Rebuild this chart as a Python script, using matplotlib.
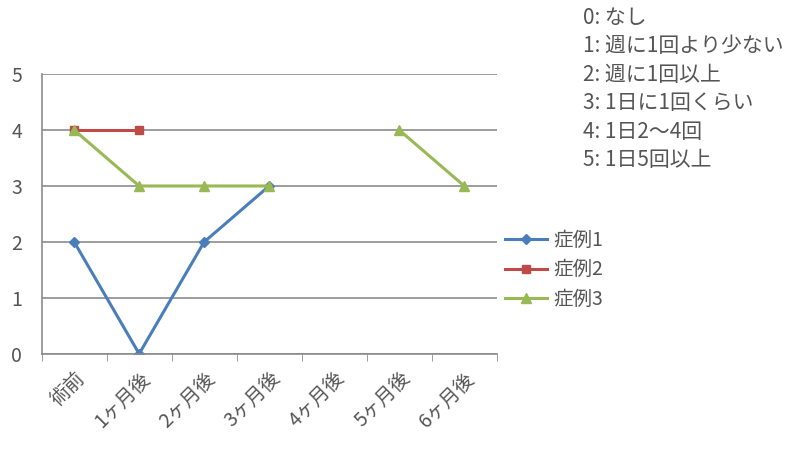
import numpy as np
import matplotlib.pyplot as plt

plt.rcParams['font.family'] = ['Noto Sans CJK JP', 'DejaVu Sans']

# data
categories = ['術前', '1ヶ月後', '2ヶ月後', '3ヶ月後', '4ヶ月後', '5ヶ月後', '6ヶ月後']
case1 = [2, 0, 2, 3, np.nan, np.nan, np.nan]
case2 = [4, 4, np.nan, np.nan, np.nan, np.nan, np.nan]
case3 = [4, 3, 3, 3, np.nan, 4, 3]
series_names = ['症例1', '症例2', '症例3']
scale_notes = ['0: なし', '1: 週に1回より少ない', '2: 週に1回以上',
               '3: 1日に1回くらい', '4: 1日2〜4回', '5: 1日5回以上']

fig = plt.figure(figsize=(7.86, 4.49), dpi=100)
ax = fig.add_axes([0.053, 0.212, 0.579, 0.623])

x = np.arange(len(categories))
styles = [('#4a7ebb', 'D', 5), ('#be4b48', 's', 6), ('#98b954', '^', 7)]
for vals, name, (c, m, ms) in zip([case1, case2, case3], series_names, styles):
    ax.plot(x, vals, color=c, marker=m, markersize=ms, linewidth=2.2, label=name)

ax.set_xlim(-0.5, len(categories) - 0.5)
ax.set_ylim(0, 5)
ax.set_yticks(range(6))
ax.grid(axis='y', color='#8c8c8c', linewidth=1.2)
ax.set_axisbelow(True)
for s in ['top', 'right']:
    ax.spines[s].set_visible(False)
for s in ['left', 'bottom']:
    ax.spines[s].set_color('#8c8c8c')
    ax.spines[s].set_linewidth(1.2)

ax.set_xticks(x)
ax.set_xticklabels(categories, rotation=45, ha='right', rotation_mode='anchor',
                   fontsize=14, color='#555555')
ax.tick_params(axis='x', length=0, pad=10)
ax.set_xticks(np.arange(-0.5, len(categories), 1), minor=True)
ax.tick_params(axis='x', which='minor', length=5, color='#8c8c8c')
ax.tick_params(axis='y', length=0, labelsize=14, labelcolor='#555555', pad=14)

ax.legend(loc='center left', bbox_to_anchor=(1.0, 0.30), frameon=False,
          fontsize=14, labelcolor='#555555', handlelength=2.2, labelspacing=0.45,
          handletextpad=0.3, borderaxespad=0)

fig.text(0.742, 0.985, '\n'.join(scale_notes), fontsize=15, color='#555555',
         va='top', ha='left', linespacing=1.38)

fig.savefig('out.png', dpi=100)
